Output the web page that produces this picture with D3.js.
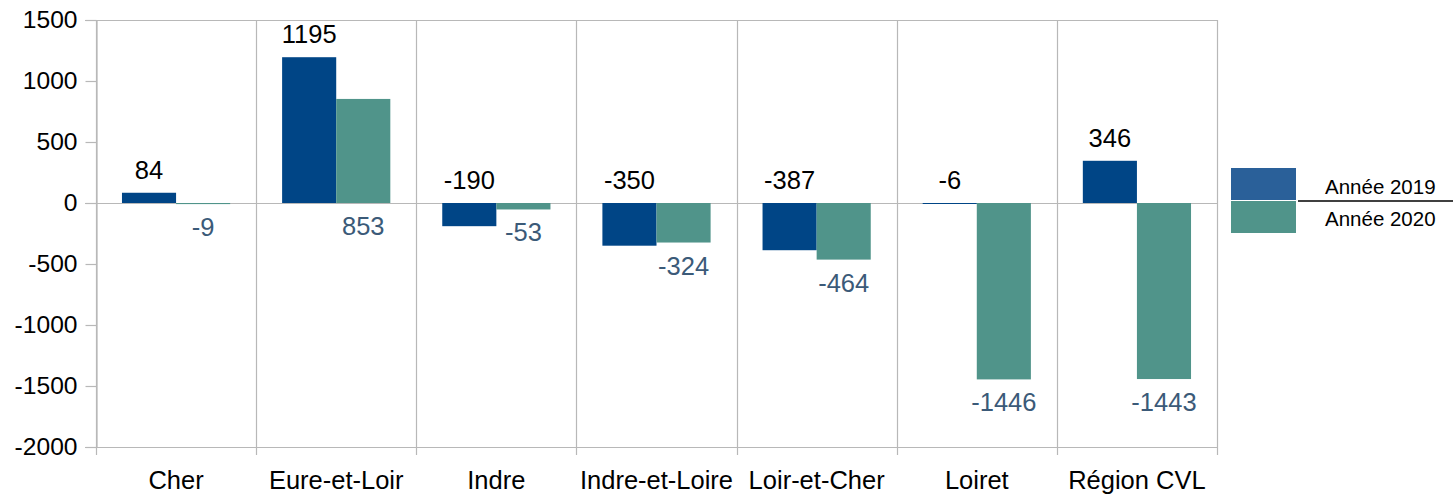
<!DOCTYPE html>
<html>
<head>
<meta charset="utf-8">
<script src="https://cdn.jsdelivr.net/npm/d3@7"></script>
<style>
  body { margin: 0; background: #fff; }
  svg text { font-family: "Liberation Sans", Arial, sans-serif; }
</style>
</head>
<body>
<div id="chart"></div>
<script>
const categories = ["Cher", "Eure-et-Loir", "Indre", "Indre-et-Loire", "Loir-et-Cher", "Loiret", "Région CVL"];
const values2019 = [84, 1195, -190, -350, -387, -6, 346];
const values2020 = [-9, 853, -53, -324, -464, -1446, -1443];
const seriesNames = ["Année 2019", "Année 2020"];
const yTicks = [1500, 1000, 500, 0, -500, -1000, -1500, -2000];

const barColors = ["#004586", "#50948a"];
const legendColors = ["#2a6099", "#50948a"];
const labelColors = ["#000000", "#3b5a78"];
const gridColor = "#b8b8b8";

const W = 1455, H = 495;
const plot = { left: 96, right: 1217, top: 20, bottom: 447 };

const svg = d3.select("#chart").append("svg")
  .attr("width", W).attr("height", H);

const x0 = d3.scaleBand()
  .domain(categories)
  .range([plot.left, plot.right])
  .paddingInner(0)
  .paddingOuter(0);

const x1 = d3.scaleBand()
  .domain([0, 1])
  .range([0, x0.bandwidth()])
  .paddingOuter(0.48)
  .paddingInner(0);

const y = d3.scaleLinear()
  .domain([-2000, 1500])
  .range([plot.bottom, plot.top]);

// vertical category separators (extend below bottom as tick marks)
svg.append("g")
  .selectAll("line")
  .data(categories.concat(["__end"]))
  .join("line")
  .attr("x1", (d, i) => Math.round(plot.left + i * x0.step()) + 0.5)
  .attr("x2", (d, i) => Math.round(plot.left + i * x0.step()) + 0.5)
  .attr("y1", plot.top)
  .attr("y2", plot.bottom + 8)
  .attr("stroke", gridColor)
  .attr("stroke-width", 1.2);

// horizontal lines: top, zero, bottom
svg.append("g")
  .selectAll("line")
  .data([1500, 0, -2000])
  .join("line")
  .attr("x1", plot.left - 11)
  .attr("x2", plot.right)
  .attr("y1", d => Math.round(y(d)) + 0.5)
  .attr("y2", d => Math.round(y(d)) + 0.5)
  .attr("stroke", gridColor)
  .attr("stroke-width", 1.2);

// y axis
const yAxis = svg.append("g")
  .attr("transform", `translate(${plot.left + 0.5},0)`)
  .call(d3.axisLeft(y).tickValues(yTicks).tickSize(11).tickPadding(8).tickFormat(d => `${d}`));
yAxis.select(".domain").attr("stroke", gridColor).attr("stroke-width", 1.2);
yAxis.selectAll(".tick line").attr("stroke", gridColor).attr("stroke-width", 1.2);
yAxis.selectAll(".tick text")
  .attr("font-size", 24.6)
  .attr("fill", "#000")
  .style("font-family", "'Liberation Sans', Arial, sans-serif");

// category labels
svg.append("g")
  .selectAll("text")
  .data(categories)
  .join("text")
  .attr("x", d => x0(d) + x0.bandwidth() / 2)
  .attr("y", 489)
  .attr("text-anchor", "middle")
  .attr("font-size", 25.5)
  .attr("fill", "#000")
  .text(d => d);

// bars
const rows = categories.map((c, i) => ({ cat: c, vals: [values2019[i], values2020[i]] }));

const groups = svg.append("g")
  .selectAll("g")
  .data(rows)
  .join("g")
  .attr("transform", d => `translate(${x0(d.cat)},0)`);

groups.selectAll("rect")
  .data(d => d.vals.map((v, s) => ({ v, s })))
  .join("rect")
  .attr("x", d => x1(d.s))
  .attr("width", x1.bandwidth())
  .attr("y", d => y(Math.max(d.v, 0)))
  .attr("height", d => Math.max(Math.abs(y(d.v) - y(0)), 1))
  .attr("fill", d => barColors[d.s]);

// value labels: 2019 above, 2020 below
groups.selectAll("text")
  .data(d => d.vals.map((v, s) => ({ v, s })))
  .join("text")
  .attr("x", d => x1(d.s) + x1.bandwidth() / 2)
  .attr("y", d => d.s === 0 ? y(Math.max(d.v, 0)) - 14 : y(Math.min(d.v, 0)) + 32)
  .attr("text-anchor", "middle")
  .attr("font-size", 25.5)
  .attr("fill", d => labelColors[d.s])
  .text(d => d.v);

// legend
const legend = svg.append("g").attr("transform", "translate(1231,168)");
legend.selectAll("rect")
  .data(seriesNames)
  .join("rect")
  .attr("x", 0)
  .attr("y", (d, i) => i * 33)
  .attr("width", 65)
  .attr("height", 32)
  .attr("fill", (d, i) => legendColors[i]);
legend.append("line")
  .attr("x1", 67).attr("x2", 222)
  .attr("y1", 33).attr("y2", 33)
  .attr("stroke", "#000").attr("stroke-width", 1.3);
legend.selectAll("text")
  .data(seriesNames)
  .join("text")
  .attr("x", 94)
  .attr("y", (d, i) => 26 + i * 32)
  .attr("font-size", 20.5)
  .attr("fill", "#000")
  .text(d => d);
</script>
</body>
</html>
